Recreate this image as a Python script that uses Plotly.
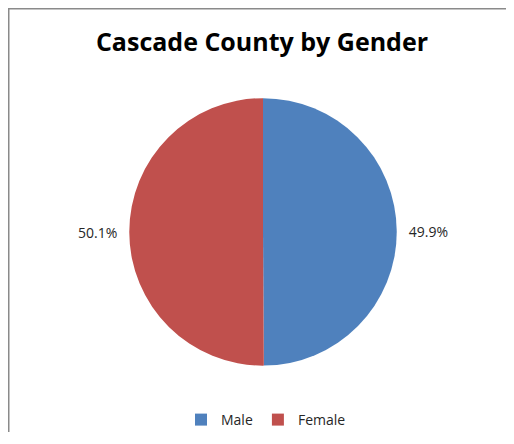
import plotly.graph_objects as go

labels = ["Male", "Female"]
values = [49.9, 50.1]
colors = ["#4F81BD", "#C0504D"]
title = "Cascade County by Gender"

W, H = 498, 428
CX, CY, R = 255, 226, 135  # pie centre / radius in figure pixels (from top-left)

fig = go.Figure(go.Pie(
    labels=labels,
    values=values,
    marker=dict(colors=colors, line=dict(color="white", width=0)),
    sort=False,
    direction="clockwise",
    rotation=0,
    texttemplate=["\u00a0\u00a0%{value:.1f}%", "%{value:.1f}%\u00a0\u00a0"],
    textposition="outside",
    textfont=dict(family="Open Sans", size=14, color="#262626"),
    domain=dict(x=[(CX - R) / W, (CX + R) / W], y=[(H - CY - R) / H, (H - CY + R) / H]),
    showlegend=True,
))

fig.update_layout(
    width=W, height=H,
    margin=dict(l=0, r=0, t=0, b=0),
    paper_bgcolor="white",
    title=dict(text="<b>" + title + "</b>", x=254 / W, xanchor="center", y=1 - 34 / H, yanchor="middle",
               font=dict(family="Open Sans", size=25, color="black")),
    legend=dict(orientation="h", x=258 / W, xanchor="center", y=1 - 416 / H, yanchor="middle",
                font=dict(family="Open Sans", size=14, color="#262626"), itemwidth=30),
    shapes=[
        dict(type="line", xref="paper", yref="paper", x0=0, x1=1, y0=1 - 0.75 / H, y1=1 - 0.75 / H,
             line=dict(color="#8a8a8a", width=1.5)),
        dict(type="line", xref="paper", yref="paper", x0=0.75 / W, x1=0.75 / W, y0=0, y1=1,
             line=dict(color="#8a8a8a", width=1.5)),
    ],
)

fig.write_html("out.html")
